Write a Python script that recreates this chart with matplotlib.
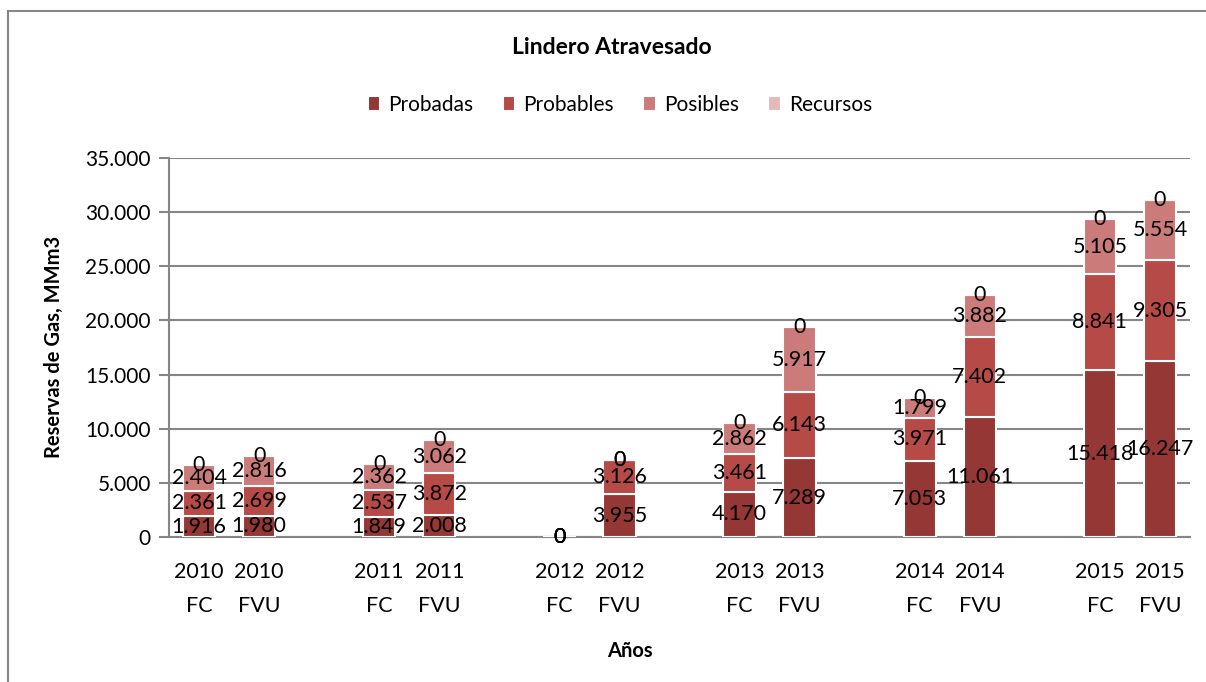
import matplotlib
matplotlib.use('Agg')
import matplotlib.pyplot as plt
from matplotlib.patches import Rectangle
import numpy as np

plt.rcParams['font.family'] = ['Lato', 'DejaVu Sans']

categories = ['2010\nFC', '2010\nFVU', '2011\nFC', '2011\nFVU', '2012\nFC', '2012\nFVU',
              '2013\nFC', '2013\nFVU', '2014\nFC', '2014\nFVU', '2015\nFC', '2015\nFVU']
probadas = [1916, 1980, 1849, 2008, 0, 3955, 4170, 7289, 7053, 11061, 15418, 16247]
probables = [2361, 2699, 2537, 3872, 0, 3126, 3461, 6143, 3971, 7402, 8841, 9305]
posibles = [2404, 2816, 2362, 3062, 0, 0, 2862, 5917, 1799, 3882, 5105, 5554]
recursos = [0, 0, 0, 0, 0, 0, 0, 0, 0, 0, 0, 0]

series_names = ['Probadas', 'Probables', 'Posibles', 'Recursos']
colors = ['#953735', '#B64A47', '#CB7B79', '#E5B9B8']


def fmt(v):
    return '{:,}'.format(v).replace(',', '.')


fig = plt.figure(figsize=(12.06, 6.82), dpi=100)
# chart border
fig.patches.append(Rectangle((8 / 1206, -0.01), 1.05, 1 - 11 / 682 + 0.01,
                             transform=fig.transFigure, fill=False,
                             edgecolor='#868686', linewidth=1.5))

ax = fig.add_axes([169 / 1206, 1 - 537 / 682, (1190 - 169) / 1206, (537 - 158) / 682])

# pairs separated by one empty slot
x = np.array([i + i // 2 for i in range(len(categories))])
bottom = np.zeros(len(categories))
width = 0.54
for name, vals, c in zip(series_names, [probadas, probables, posibles, recursos], colors):
    vals = np.array(vals)
    ax.bar(x, vals, width, bottom=bottom, color=c, edgecolor='white', linewidth=1.5,
           label=name, zorder=3)
    for xi, b, v in zip(x, bottom, vals):
        ax.text(xi, b + v / 2, fmt(int(v)), ha='center', va='center', fontsize=15.5,
                color='black', zorder=5)
    bottom = bottom + vals

ax.set_xlim(-0.5, x[-1] + 0.5)
ax.set_ylim(0, 35000)
ax.set_yticks(np.arange(0, 35001, 5000))
ax.set_yticklabels([fmt(v) for v in range(0, 35001, 5000)], fontsize=15)
ax.set_xticks(x)
ax.set_xticklabels(categories, fontsize=15.5, linespacing=1.9)
ax.tick_params(axis='x', length=0, pad=18)
ax.tick_params(axis='y', length=7, color='#868686', width=1.5, pad=6)
ax.grid(axis='y', color='#868686', linewidth=1.5, zorder=0)
ax.set_axisbelow(True)
for s in ['top', 'right']:
    ax.spines[s].set_visible(False)
for s in ['left', 'bottom']:
    ax.spines[s].set_color('#868686')
    ax.spines[s].set_linewidth(1.5)

fig.text(54 / 1206, 1 - 347 / 682, 'Reservas de Gas, MMm3', rotation=90, ha='center',
         va='center', fontsize=14.5, fontweight='bold')
fig.text(630 / 1206, 1 - 651 / 682, 'Años', ha='center', va='center',
         fontsize=14.5, fontweight='bold')
fig.text(612 / 1206, 1 - 47 / 682, 'Lindero Atravesado', ha='center',
         va='center', fontsize=16.5, fontweight='bold')
fig.legend(loc='center', bbox_to_anchor=(620 / 1206, 1 - 105 / 682),
           ncol=4, frameon=False, fontsize=15, handlelength=0.6, handleheight=0.7,
           handletextpad=0.4, columnspacing=1.4)

fig.savefig('out.png', dpi=100)
